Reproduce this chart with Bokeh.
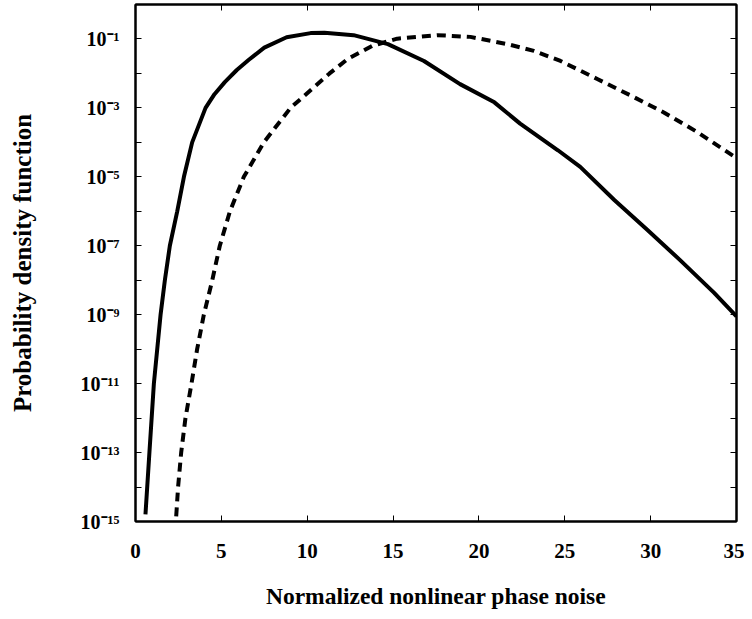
from bokeh.plotting import figure
from bokeh.models import LogAxis, LinearAxis, FixedTicker, Range1d, CustomLabelingPolicy
from bokeh.embed import file_html
from bokeh.resources import INLINE

# ---- data ----
solid_x = [0.58, 0.81, 1.07, 1.46, 1.71, 2.0, 2.43, 2.82, 3.3, 4.08, 4.6, 5.2, 5.9, 6.6, 7.5, 8.8,
           10.2, 11.0, 12.7, 14.7, 16.8, 18.9, 20.9, 22.4, 24.6, 25.9, 27.9, 29.8, 31.7, 33.7, 35.0]
solid_y = [1.6e-15, 1e-13, 1e-11, 1e-9, 1e-8, 1e-7, 1e-6, 1e-5, 1e-4, 1e-3, 2.5e-3, 5.6e-3,
           1.26e-2, 2.5e-2, 5.6e-2, 0.112, 0.148, 0.151, 0.129, 0.071, 0.023, 4.9e-3, 1.45e-3,
           3.5e-4, 5.9e-5, 1.95e-5, 2.1e-6, 2.9e-7, 3.9e-8, 4.3e-9, 8.9e-10]

dashed_x = [2.37, 2.48, 2.66, 2.91, 3.26, 3.59, 3.98, 4.47, 4.91, 5.5, 6.31, 7.47, 9.03, 11.3,
            12.33, 13.78, 15.24, 17.57, 19.5, 21.65, 23.2, 24.75, 26.89, 28.83, 30.77, 32.71, 35.0]
dashed_y = [1.4e-15, 1e-14, 1e-13, 1e-12, 1e-11, 1e-10, 1e-9, 1e-8, 1e-7, 1e-6, 1e-5, 1e-4, 1e-3,
            1e-2, 0.0257, 0.063, 0.102, 0.129, 0.115, 0.071, 0.045, 0.023, 6.9e-3, 2.3e-3,
            7.4e-4, 2.0e-4, 3.5e-5]

x_ticks = [0, 5, 10, 15, 20, 25, 30, 35]
y_major = [1e-15, 1e-13, 1e-11, 1e-9, 1e-7, 1e-5, 1e-3, 1e-1]
y_minor = [1e-14, 1e-12, 1e-10, 1e-8, 1e-6, 1e-4, 1e-2]
y_labels = ["10\u207b\u00b9\u2075", "10\u207b\u00b9\u00b3", "10\u207b\u00b9\u00b9", "10\u207b\u2079",
            "10\u207b\u2077", "10\u207b\u2075", "10\u207b\u00b3", "10\u207b\u00b9"]

FONT = "Liberation Serif"

p = figure(width=744, height=611, output_backend="svg", toolbar_location=None,
           y_axis_type="log", x_range=Range1d(0, 35), y_range=Range1d(1e-15, 1.0),
           min_border_left=135, min_border_right=8, min_border_top=0, min_border_bottom=90)
p.grid.visible = False
p.outline_line_color = "black"
p.outline_line_width = 2
p.background_fill_color = "white"
p.border_fill_color = "white"

p.line(solid_x, solid_y, line_color="black", line_width=4)
p.line(dashed_x, dashed_y, line_color="black", line_width=4, line_dash="9 6")

def style(ax):
    ax.axis_line_color = "black"
    ax.axis_line_width = 2
    ax.major_tick_in = 6
    ax.major_tick_out = 0
    ax.minor_tick_in = 6
    ax.minor_tick_out = 0
    ax.major_tick_line_width = 1
    ax.minor_tick_line_width = 1
    ax.major_label_text_font = FONT
    ax.major_label_text_font_style = "bold"
    ax.major_label_text_color = "black"
    ax.axis_label_text_font = FONT
    ax.axis_label_text_font_style = "bold"
    ax.axis_label_text_color = "black"

xa = p.xaxis[0]
style(xa)
xa.ticker = FixedTicker(ticks=x_ticks)
xa.major_label_text_font_size = "21px"
xa.major_label_standoff = 22
xa.axis_label = "Normalized nonlinear phase noise"
xa.axis_label_text_font_size = "23.5px"
xa.axis_label_standoff = 22

ya = p.yaxis[0]
style(ya)
ya.ticker = FixedTicker(ticks=y_major, minor_ticks=y_minor)
ya.major_label_overrides = {t: l for t, l in zip(y_major, y_labels)}
ya.major_label_text_font_size = "20px"
ya.major_label_standoff = 16
ya.axis_label = "Probability density function"
ya.axis_label_text_font_size = "25px"
ya.axis_label_standoff = 42

ra = LogAxis(ticker=FixedTicker(ticks=y_major, minor_ticks=y_minor))
style(ra)
ra.major_label_text_font_size = "1px"
ra.major_label_standoff = 0
ra.major_label_policy = CustomLabelingPolicy(code="return new Set()")
p.add_layout(ra, "right")

ta = LinearAxis(ticker=FixedTicker(ticks=x_ticks))
style(ta)
ta.major_label_text_font_size = "1px"
ta.major_label_standoff = 0
ta.major_label_policy = CustomLabelingPolicy(code="return new Set()")
p.add_layout(ta, "above")

open("out.html", "w").write(file_html(p, INLINE))
